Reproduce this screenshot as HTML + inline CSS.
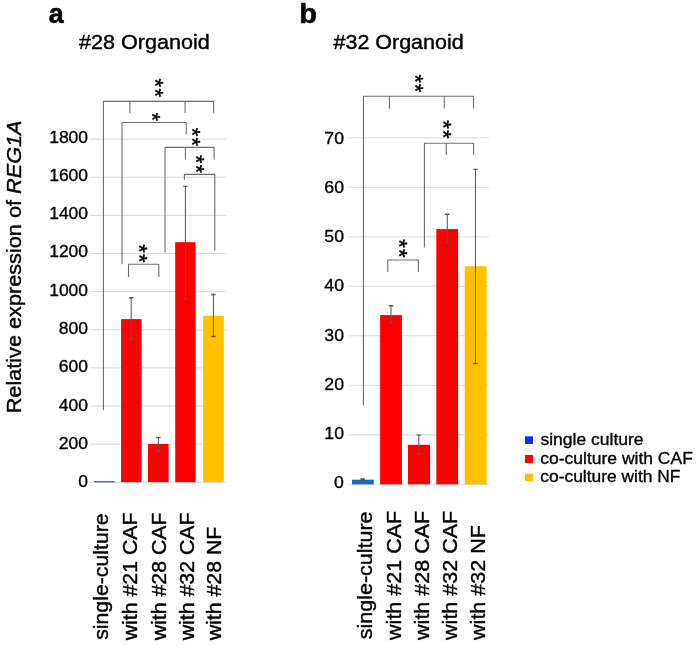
<!DOCTYPE html>
<html><head><meta charset="utf-8"><title>REG1A expression</title>
<style>html,body{margin:0;padding:0;background:#fff;}svg{display:block;}</style></head>
<body>
<svg width="697" height="646" viewBox="0 0 697 646" font-family="'Liberation Sans', Arial, Helvetica, sans-serif" fill="#000" stroke-linejoin="round">
<rect width="697" height="646" fill="#fff"/>
<line x1="90" y1="482.3" x2="226.3" y2="482.3" stroke="#d9d9d9" stroke-width="1"/>
<line x1="90" y1="444.166" x2="226.3" y2="444.166" stroke="#d9d9d9" stroke-width="1"/>
<line x1="90" y1="406.032" x2="226.3" y2="406.032" stroke="#d9d9d9" stroke-width="1"/>
<line x1="90" y1="367.898" x2="226.3" y2="367.898" stroke="#d9d9d9" stroke-width="1"/>
<line x1="90" y1="329.764" x2="226.3" y2="329.764" stroke="#d9d9d9" stroke-width="1"/>
<line x1="90" y1="291.63" x2="226.3" y2="291.63" stroke="#d9d9d9" stroke-width="1"/>
<line x1="90" y1="253.496" x2="226.3" y2="253.496" stroke="#d9d9d9" stroke-width="1"/>
<line x1="90" y1="215.362" x2="226.3" y2="215.362" stroke="#d9d9d9" stroke-width="1"/>
<line x1="90" y1="177.228" x2="226.3" y2="177.228" stroke="#d9d9d9" stroke-width="1"/>
<line x1="90" y1="139.094" x2="226.3" y2="139.094" stroke="#d9d9d9" stroke-width="1"/>
<line x1="348.2" y1="484.3" x2="489.5" y2="484.3" stroke="#d9d9d9" stroke-width="1"/>
<line x1="348.2" y1="434.8" x2="489.5" y2="434.8" stroke="#d9d9d9" stroke-width="1"/>
<line x1="348.2" y1="385.3" x2="489.5" y2="385.3" stroke="#d9d9d9" stroke-width="1"/>
<line x1="348.2" y1="335.8" x2="489.5" y2="335.8" stroke="#d9d9d9" stroke-width="1"/>
<line x1="348.2" y1="286.3" x2="489.5" y2="286.3" stroke="#d9d9d9" stroke-width="1"/>
<line x1="348.2" y1="236.8" x2="489.5" y2="236.8" stroke="#d9d9d9" stroke-width="1"/>
<line x1="348.2" y1="187.3" x2="489.5" y2="187.3" stroke="#d9d9d9" stroke-width="1"/>
<line x1="348.2" y1="137.8" x2="489.5" y2="137.8" stroke="#d9d9d9" stroke-width="1"/>
<rect x="94.1" y="481" width="20.6" height="1.4" fill="#4472c4"/>
<rect x="121.1" y="319.1" width="20.5" height="163" fill="#ff0000"/>
<rect x="148" y="444" width="20.6" height="38.1" fill="#ff0000"/>
<rect x="175.2" y="242.2" width="20.4" height="239.9" fill="#ff0000"/>
<rect x="203.2" y="315.8" width="20.6" height="166.3" fill="#ffc000"/>
<rect x="352" y="479.7" width="21.8" height="4.6" fill="#0b6ecb"/>
<rect x="380.1" y="315.1" width="21.8" height="169.2" fill="#ff0000"/>
<rect x="408" y="444.8" width="22.1" height="39.5" fill="#ff0000"/>
<rect x="436.3" y="229.1" width="21.8" height="255.2" fill="#ff0000"/>
<rect x="464.7" y="266.3" width="21.9" height="218" fill="#ffc000"/>
<path d="M131.2 297.8V339" stroke="#5a5a5a" stroke-width="1.05" fill="none"/>
<path d="M129 297.8H133.4M129 339H133.4" stroke="#5a5a5a" stroke-width="1.4" fill="none"/>
<path d="M158.4 437.5V451.3" stroke="#5a5a5a" stroke-width="1.05" fill="none"/>
<path d="M156.2 437.5H160.6M156.2 451.3H160.6" stroke="#5a5a5a" stroke-width="1.4" fill="none"/>
<path d="M185.4 186.4V299" stroke="#5a5a5a" stroke-width="1.05" fill="none"/>
<path d="M183.2 186.4H187.6M183.2 299H187.6" stroke="#5a5a5a" stroke-width="1.4" fill="none"/>
<path d="M213.4 294.5V336.5" stroke="#5a5a5a" stroke-width="1.05" fill="none"/>
<path d="M211.2 294.5H215.6M211.2 336.5H215.6" stroke="#5a5a5a" stroke-width="1.4" fill="none"/>
<path d="M362.6 478.9V480.3" stroke="#5a5a5a" stroke-width="1.05" fill="none"/>
<path d="M360.4 478.9H364.8M360.4 480.3H364.8" stroke="#5a5a5a" stroke-width="1.4" fill="none"/>
<path d="M391 305.8V323.1" stroke="#5a5a5a" stroke-width="1.05" fill="none"/>
<path d="M388.8 305.8H393.2M388.8 323.1H393.2" stroke="#5a5a5a" stroke-width="1.4" fill="none"/>
<path d="M418.8 435.1V453.7" stroke="#5a5a5a" stroke-width="1.05" fill="none"/>
<path d="M416.6 435.1H421M416.6 453.7H421" stroke="#5a5a5a" stroke-width="1.4" fill="none"/>
<path d="M447.3 214.3V242.4" stroke="#5a5a5a" stroke-width="1.05" fill="none"/>
<path d="M445.1 214.3H449.5M445.1 242.4H449.5" stroke="#5a5a5a" stroke-width="1.4" fill="none"/>
<path d="M475.5 169.4V363.5" stroke="#5a5a5a" stroke-width="1.05" fill="none"/>
<path d="M473.3 169.4H477.7M473.3 363.5H477.7" stroke="#5a5a5a" stroke-width="1.4" fill="none"/>
<path d="M103.4 410V101.4H213.6V112.9M129.9 101.4V113.3M185.1 101.4V112.9 M122 264.3V122.5H186.3V134.3 M165 252.5V147.4H214.1V159.5M185.4 147.4V159.4 M184.4 179.9V174.4H214.8V250.6 M128.5 277V264.2H158.8V277 M363.4 405.2V96.2H473.5V108.5M389.4 96.2V108.7M444.3 96.2V108.5 M424.4 247.5V143.2H473.6V155M446.3 143.2V155 M387.8 272V260H418.4V272" stroke="#6e6e6e" stroke-width="1.1" fill="none"/>
<rect x="525" y="436.3" width="8" height="7.7" fill="#1030ff"/>
<rect x="525" y="455.0" width="8" height="7.9" fill="#ff0000"/>
<rect x="525" y="473.6" width="8" height="7.6" fill="#ffc000"/>
<g stroke="#000" stroke-width="2">
<text transform="matrix(0.268 0 0 0.285 48.696 22.515)" font-size="100" font-weight="bold">a</text>
<text transform="matrix(0.29 0 0 0.271 299.17 22.8)" font-size="100" font-weight="bold">b</text>
<text transform="matrix(0.216 0 0 0.203 79 48.833)" font-size="100" >#28 Organoid</text>
<text transform="matrix(0.215 0 0 0.203 333.5 48.633)" font-size="100" >#32 Organoid</text>
<text transform="matrix(0.175 0 0 0.165 540.476 445.137)" font-size="100" >single culture</text>
<text transform="matrix(0.175 0 0 0.158 540.302 463.542)" font-size="100" >co-culture with CAF</text>
<text transform="matrix(0.174 0 0 0.166 540.302 481.734)" font-size="100" >co-culture with NF</text>
<text transform="matrix(0 -0.217 0.206 0 21.066 413.339)" font-size="100" >Relative expression of <tspan font-style="italic">REG1A</tspan></text>
<text transform="matrix(0 -0.213 0.201 0 108.278 639.84)" font-size="100" >single-culture</text>
<text transform="matrix(0 -0.213 0.205 0 137.495 640.3)" font-size="100" >with #21 CAF</text>
<text transform="matrix(0 -0.213 0.205 0 165.695 640.3)" font-size="100" >with #28 CAF</text>
<text transform="matrix(0 -0.213 0.205 0 193.695 640.3)" font-size="100" >with #32 CAF</text>
<text transform="matrix(0 -0.213 0.205 0 220.795 640.3)" font-size="100" >with #28 NF</text>
<text transform="matrix(0 -0.215 0.201 0 371.978 639.244)" font-size="100" >single-culture</text>
<text transform="matrix(0 -0.215 0.205 0 401.095 639.9)" font-size="100" >with #21 CAF</text>
<text transform="matrix(0 -0.215 0.205 0 429.095 639.9)" font-size="100" >with #28 CAF</text>
<text transform="matrix(0 -0.215 0.205 0 457.295 639.9)" font-size="100" >with #32 CAF</text>
<text transform="matrix(0 -0.215 0.205 0 484.995 639.9)" font-size="100" >with #32 NF</text>
<text transform="matrix(0 0.222 -0.223 0 147.923 78.555)" font-size="100" letter-spacing="6">**</text>
<text transform="matrix(0 0.214 -0.223 0 144.623 112.871)" font-size="100" >*</text>
<text transform="matrix(0 0.22 -0.223 0 185.423 127.66)" font-size="100" letter-spacing="6">**</text>
<text transform="matrix(0 0.216 -0.223 0 188.823 155.067)" font-size="100" letter-spacing="6">**</text>
<text transform="matrix(0 0.221 -0.223 0 131.723 244.157)" font-size="100" letter-spacing="6">**</text>
<text transform="matrix(0 0.214 -0.223 0 407.623 74.473)" font-size="100" letter-spacing="6">**</text>
<text transform="matrix(0 0.22 -0.223 0 436.323 120.16)" font-size="100" letter-spacing="6">**</text>
<text transform="matrix(0 0.22 -0.223 0 391.823 239.16)" font-size="100" letter-spacing="6">**</text>
<text transform="matrix(0.175 0 0 0.165 78.275 487.135)" font-size="100">0</text>
<text transform="matrix(0.175 0 0 0.165 58.798 448.851)" font-size="100">200</text>
<text transform="matrix(0.175 0 0 0.165 58.798 410.567)" font-size="100">400</text>
<text transform="matrix(0.175 0 0 0.165 58.798 372.283)" font-size="100">600</text>
<text transform="matrix(0.175 0 0 0.165 58.798 333.999)" font-size="100">800</text>
<text transform="matrix(0.175 0 0 0.165 49.147 295.715)" font-size="100">1000</text>
<text transform="matrix(0.175 0 0 0.165 49.147 257.431)" font-size="100">1200</text>
<text transform="matrix(0.175 0 0 0.165 49.147 219.147)" font-size="100">1400</text>
<text transform="matrix(0.175 0 0 0.165 49.147 180.863)" font-size="100">1600</text>
<text transform="matrix(0.175 0 0 0.165 49.147 142.579)" font-size="100">1800</text>
<text transform="matrix(0.177 0 0 0.163 334.073 488.237)" font-size="100">0</text>
<text transform="matrix(0.177 0 0 0.163 324.313 439.007)" font-size="100">10</text>
<text transform="matrix(0.177 0 0 0.163 324.313 389.777)" font-size="100">20</text>
<text transform="matrix(0.177 0 0 0.163 324.313 340.547)" font-size="100">30</text>
<text transform="matrix(0.177 0 0 0.163 324.313 291.317)" font-size="100">40</text>
<text transform="matrix(0.177 0 0 0.163 324.313 242.087)" font-size="100">50</text>
<text transform="matrix(0.177 0 0 0.163 324.313 192.857)" font-size="100">60</text>
<text transform="matrix(0.177 0 0 0.163 324.313 143.627)" font-size="100">70</text>
</g>
</svg>
</body></html>
